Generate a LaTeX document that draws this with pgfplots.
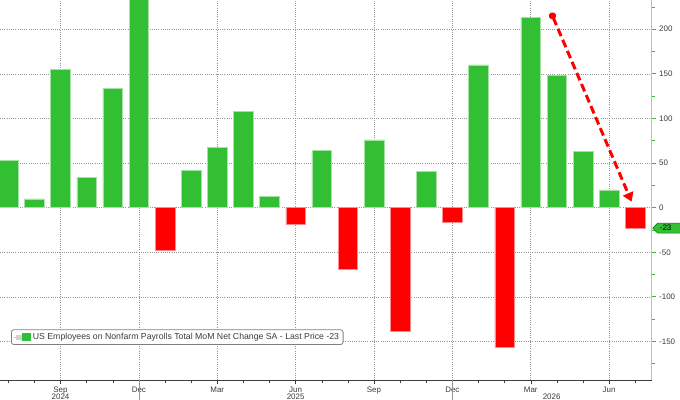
\documentclass[border=0pt]{standalone}
\usepackage{fontspec}
\setmainfont{Liberation Sans}
\usepackage{pgfplots}
\usepackage{pgfplotstable}
\pgfplotsset{compat=1.18}
\usetikzlibrary{arrows.meta}
\definecolor{barGreen}{RGB}{51,191,51}
\definecolor{barRed}{RGB}{255,0,0}
\definecolor{axGreen}{RGB}{150,222,150}
\definecolor{txt}{RGB}{60,60,60}
\definecolor{gridc}{RGB}{150,150,150}

% month index: 0 = Jul 2024 ... 24 = Jul 2026
\pgfplotstableread{
i v
0 53
1 10
2 155
3 34
4 134
5 260
7 42
8 68
9 108
10 13
12 64
14 76
16 41
18 160
20 213
21 148
22 63
23 20
}\postab
\pgfplotstableread{
i v
6 -48
11 -19
13 -69
15 -139
17 -16
19 -156
24 -23
}\negtab

\begin{document}
\begin{tikzpicture}
\useasboundingbox (0,0) rectangle (680bp,400bp);
\begin{axis}[
  at={(0,19.7bp)}, anchor=south west,
  scale only axis, width=651.7bp, height=380.3bp,
  xmin=-0.316, xmax=24.63, ymin=-193.5, ymax=232.8,
  axis x line*=bottom, axis y line*=right,
  x axis line style={draw=txt, line width=0.6bp},
  y axis line style={draw=axGreen, line width=1bp},
  xtick={2,5,8,11,14,17,20,23},
  xticklabels={Sep,Dec,Mar,Jun,Sep,Dec,Mar,Jun},
  minor xtick={0,...,24},
  ytick={-150,-100,...,200},
  minor ytick={-175,-125,...,225},
  tick align=outside,
  major tick length=4bp, minor tick length=3bp,
  x tick style={draw=txt, line width=0.5bp},
  y tick style={draw=barGreen, line width=0.8bp},
  xmajorgrids, ymajorgrids,
  grid style={draw=gridc, line width=0.6bp, dash pattern=on 1bp off 1.2bp},
  ticklabel style={font=\fontsize{8}{9.6}\selectfont, text=txt},
  xticklabel style={anchor=base, yshift=-8.5bp},
  /pgf/number format/assume math mode=true,
  clip mode=individual,
  legend style={at={(0.0169,0.134)}, anchor=north west, draw=gray, line width=0.8bp,
    rounded corners=2.5bp, font=\fontsize{8.75}{10.5}\selectfont, text=txt,
    inner xsep=2bp, inner ysep=1.5bp},
  legend cell align=left,
]
\addplot[ybar, bar shift=0pt, bar width=0.747, fill=barGreen, draw=barGreen!45!white, line width=0.5bp,
  legend image code/.code={
    \path (0bp,0bp) -- (17bp,0bp);
    \fill[gray!35, sharp corners] (3bp,-2.3bp) rectangle (7.7bp,2.3bp);
    \fill[barGreen, sharp corners] (9bp,-3.5bp) rectangle (16.3bp,3.5bp);
  }] table[x=i,y=v]{\postab};
\addlegendentry{US Employees on Nonfarm Payrolls Total MoM Net Change SA - Last Price -23}
\addplot[ybar, bar shift=0pt, bar width=0.747, fill=barRed, draw=barRed!45!white, line width=0.5bp, forget plot]
  table[x=i,y=v]{\negtab};

\draw[barRed, line width=3bp, dash pattern=on 8bp off 4bp,
  {Circle[length=7bp]}-{Triangle[length=9bp,width=11bp]}]
  (axis cs:20.78,218.6) -- (axis cs:23.86,6.7);

\coordinate (dec1) at (axis cs:5,-193.5);
\coordinate (dec2) at (axis cs:17,-193.5);
\coordinate (y1) at (axis cs:2,-193.5);
\coordinate (y2) at (axis cs:11,-193.5);
\coordinate (y3) at (axis cs:20.8,-193.5);
\coordinate (tag) at (axis cs:24.63,-23);
\end{axis}

\draw[gridc, line width=0.6bp] (dec1) -- ++(0,-21bp);
\draw[gridc, line width=0.6bp] (dec2) -- ++(0,-21bp);

\node[font=\fontsize{8}{9.6}\selectfont, text=txt, anchor=base] at ([yshift=-19.4bp]y1) {2024};
\node[font=\fontsize{8}{9.6}\selectfont, text=txt, anchor=base] at ([yshift=-19.4bp]y2) {2025};
\node[font=\fontsize{8}{9.6}\selectfont, text=txt, anchor=base] at ([yshift=-19.4bp]y3) {2026};

\draw[fill=barGreen, draw=barGreen!60!black, line width=0.6bp]
  ([xshift=1bp]tag) -- ++(5bp,5bp) -- ++(30bp,0) -- ++(0,-10bp) -- ++(-30bp,0) -- cycle;
\node[font=\fontsize{8}{9.6}\selectfont, text=black, anchor=west, inner sep=0pt]
  at ([xshift=8bp]tag) {-23};
\end{tikzpicture}
\end{document}
